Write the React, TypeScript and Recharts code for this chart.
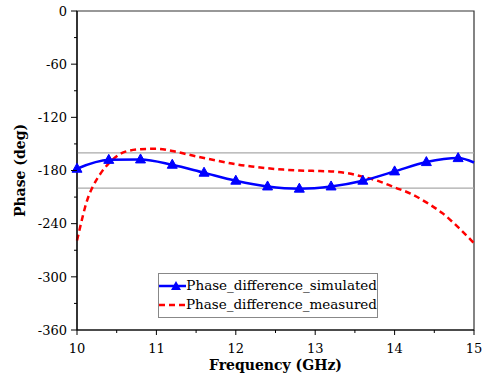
import React from 'react';
import { LineChart, Line, XAxis, YAxis, ReferenceLine, ReferenceArea, Legend, Label } from 'recharts';

// Simulated phase difference (markers every 0.4 GHz, curve ends at 15 GHz)
const simFreq = [10, 10.4, 10.8, 11.2, 11.6, 12, 12.4, 12.8, 13.2, 13.6, 14, 14.4, 14.8, 15];
const simPhase = [-178, -168, -167.5, -173.5, -182.5, -191.5, -198, -200.5, -198, -191.5, -181, -170.5, -166, -171];

// Measured phase difference
const measFreq = [10, 10.05, 10.1, 10.15, 10.2, 10.3, 10.4, 10.5, 10.6, 10.8, 11, 11.2, 11.4, 11.6, 11.8, 12, 12.2, 12.4, 12.6, 12.8, 13, 13.2, 13.4, 13.6, 13.8, 14, 14.2, 14.4, 14.6, 14.8, 15];
const measPhase = [-259, -240, -222, -208, -198, -183, -172, -164, -159, -156, -155.5, -158, -162, -166, -169.5, -173, -175.5, -177.5, -179, -180, -180.5, -181, -183, -187, -192, -199, -206, -216, -228, -244, -262];

const xTicks = [10, 10.5, 11, 11.5, 12, 12.5, 13, 13.5, 14, 14.5, 15];
const yTicks = [0, -30, -60, -90, -120, -150, -180, -210, -240, -270, -300, -330, -360];
const bandLines = [-160, -200];

const simData = simFreq.map((f, i) => ({ f, v: simPhase[i] }));
const measData = measFreq.map((f, i) => ({ f, v: measPhase[i] }));

// only DejaVu Serif resolves to a serif face in this environment
const FONT = 'DejaVu Serif';
const BLUE = '#0000ff';
const RED = '#ff0000';

const YTick = (props: any) => {
  const { x, y, payload } = props;
  const major = payload.value % 60 === 0;
  return (
    <g>
      <line x1={x} x2={x - (major ? 6 : 3)} y1={y} y2={y} stroke="#000" strokeWidth={1} />
      {major && (
        <text x={x - 10} y={y} dy="0.36em" textAnchor="end" style={{ fontFamily: FONT }} fontSize={13} fill="#000">
          {payload.value}
        </text>
      )}
    </g>
  );
};

const XTick = (props: any) => {
  const { x, y, payload } = props;
  const major = Number.isInteger(payload.value);
  return (
    <g>
      <line x1={x} x2={x} y1={y} y2={y + (major ? 5 : 3)} stroke="#000" strokeWidth={1} />
      {major && (
        <text x={x} y={y + 23} textAnchor="middle" style={{ fontFamily: FONT }} fontSize={13} fill="#000">
          {payload.value}
        </text>
      )}
    </g>
  );
};

const triangleDot = (props: any) => {
  const { cx, cy, index } = props;
  if (index === simFreq.length - 1 || cx == null) return <g key={`d${index}`} />;
  return (
    <polygon
      key={`d${index}`}
      points={`${cx},${cy - 5.5} ${cx - 5},${cy + 3.5} ${cx + 5},${cy + 3.5}`}
      fill={BLUE}
      stroke={BLUE}
    />
  );
};

const LegendBox = () => (
  <div
    style={{
      border: '1px solid #888',
      background: '#fff',
      width: 218,
      padding: '2px 0 3px 0',
      fontFamily: FONT,
      fontSize: 13.5,
      lineHeight: '19px',
      color: '#000',
    }}
  >
    <div style={{ display: 'flex', alignItems: 'center' }}>
      <svg width={33} height={12}>
        <line x1={0} x2={31} y1={6} y2={6} stroke={BLUE} strokeWidth={2.5} />
        <polygon points="17,1 12,10 22,10" fill={BLUE} />
      </svg>
      <span>Phase_difference_simulated</span>
    </div>
    <div style={{ display: 'flex', alignItems: 'center' }}>
      <svg width={33} height={12}>
        <line x1={0} x2={31} y1={6} y2={6} stroke={RED} strokeWidth={2.5} strokeDasharray="6 4" />
      </svg>
      <span>Phase_difference_measured</span>
    </div>
  </div>
);

export default function App() {
  return (
    <div style={{ position: 'absolute', left: 0, top: 0, background: '#fff' }}>
      <LineChart width={487} height={383} margin={{ top: 11, right: 13, left: 0, bottom: 3 }}>
        <ReferenceArea x1={10} x2={15} y1={-360} y2={0} fill="none" stroke="#333" strokeWidth={1.2} />
        {bandLines.map((v) => (
          <ReferenceLine key={v} y={v} stroke="#aaaaaa" strokeWidth={1.2} />
        ))}
        <XAxis
          type="number"
          dataKey="f"
          domain={[10, 15]}
          ticks={xTicks}
          tick={<XTick />}
          tickLine={false}
          tickSize={0}
          tickMargin={0}
          height={50}
          axisLine={{ stroke: '#000', strokeWidth: 1.2 }}
        >
          <Label
            content={(p: any) => {
              const vb = p.viewBox || {};
              return (
                <text
                  x={vb.x + vb.width / 2}
                  y={vb.y + 40}
                  textAnchor="middle"
                  style={{ fontFamily: FONT }}
                  fontSize={14}
                  fontWeight="bold"
                  fill="#000"
                >
                  Frequency (GHz)
                </text>
              );
            }}
          />
        </XAxis>
        <YAxis
          type="number"
          domain={[-360, 0]}
          ticks={yTicks}
          tick={<YTick />}
          tickLine={false}
          tickSize={0}
          tickMargin={0}
          width={77}
          axisLine={{ stroke: '#000', strokeWidth: 1.2 }}
        >
          <Label
            content={(p: any) => {
              const vb = p.viewBox || {};
              const cy = vb.y + vb.height / 2;
              return (
                <text
                  x={20}
                  y={cy}
                  transform={`rotate(-90, 20, ${cy})`}
                  textAnchor="middle"
                  dominantBaseline="central"
                  style={{ fontFamily: FONT }}
                  fontSize={14}
                  fontWeight="bold"
                  fill="#000"
                >
                  Phase (deg)
                </text>
              );
            }}
          />
        </YAxis>
        <Line
          data={measData}
          dataKey="v"
          type="monotone"
          stroke={RED}
          strokeWidth={2.5}
          strokeDasharray="6 4"
          dot={false}
          isAnimationActive={false}
        />
        <Line
          data={simData}
          dataKey="v"
          type="monotone"
          stroke={BLUE}
          strokeWidth={2.5}
          dot={triangleDot}
          isAnimationActive={false}
        />
        <Legend
          layout="vertical"
          align="center"
          verticalAlign="middle"
          content={() => <LegendBox />}
          wrapperStyle={{ left: 158, top: 273, width: 220 }}
        />
      </LineChart>
    </div>
  );
}
